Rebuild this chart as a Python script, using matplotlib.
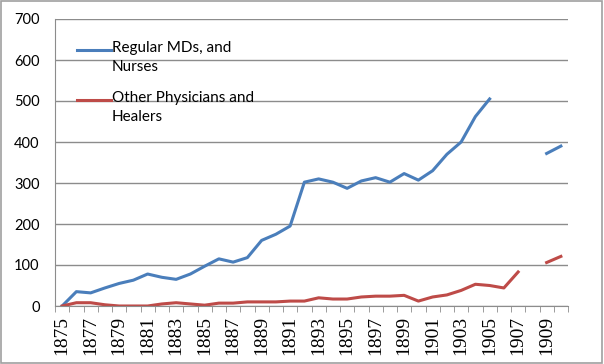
import numpy as np
import matplotlib
matplotlib.use("Agg")
import matplotlib.pyplot as plt
from matplotlib.patches import Rectangle

years = list(range(1875, 1911))
regular_mds = [0, 35, 32, 44, 55, 63, 78, 70, 65, 78,
               97, 115, 107, 118, 160, 175, 195, 302, 310, 302,
               287, 305, 313, 302, 323, 307, 330, 370, 400, 462,
               505, np.nan, np.nan, np.nan, 372, 390]
other_healers = [0, 8, 8, 3, 0, 0, 0, 5, 8, 5,
                 2, 7, 7, 10, 10, 10, 12, 12, 20, 17,
                 17, 22, 24, 24, 26, 12, 22, 27, 38, 53,
                 50, 44, 83, np.nan, 106, 121]
series_labels = ["Regular MDs, and\nNurses", "Other Physicians and\nHealers"]
y_ticks = [0, 100, 200, 300, 400, 500, 600, 700]

BLUE = "#4A7EBB"
RED = "#BE4B48"
GRID = "#8C8C8C"

fig = plt.figure(figsize=(6.04, 3.64), dpi=100)
ax = fig.add_axes([55 / 604, 1 - 306 / 364, (568 - 55) / 604, (306 - 19) / 364])

x = np.arange(len(years))
ax.plot(x, regular_mds, color=BLUE, linewidth=2.2)
ax.plot(x, other_healers, color=RED, linewidth=2.2)

ax.set_xlim(-0.5, len(years) - 0.5)
ax.set_ylim(0, 700)
ax.set_yticks(y_ticks)
ax.set_yticklabels([str(v) for v in y_ticks], family="Lato", fontsize=10.5)
ax.yaxis.grid(True, color=GRID, linewidth=1.0)
ax.set_axisbelow(True)
ax.tick_params(axis="y", length=0, pad=11)

label_idx = [i for i, yr in enumerate(years) if (yr - 1875) % 2 == 0 and yr < 1910]
ax.set_xticks(label_idx)
ax.set_xticklabels([str(years[i]) for i in label_idx], rotation=90,
                   family="Liberation Serif", fontsize=14)
ax.set_xticks(np.arange(-0.5, len(years)), minor=True)
ax.tick_params(axis="x", which="major", length=0, pad=7)
ax.tick_params(axis="x", which="minor", length=4, color=GRID, direction="out")

for side in ("top", "right"):
    ax.spines[side].set_visible(False)
for side in ("left", "bottom"):
    ax.spines[side].set_color(GRID)

# legend drawn by hand so the key line sits on the first text line, as in Excel
def px(xp, yp):
    return xp / 604, 1 - yp / 364

for label, color, y0 in zip(series_labels, [BLUE, RED], [50, 100]):
    x0, yy = px(77, y0)
    x1, _ = px(111, y0)
    fig.add_artist(plt.Line2D([x0, x1], [yy, yy], color=color, linewidth=2.2,
                              transform=fig.transFigure))
    tx, ty = px(112, y0 - 9)
    fig.text(tx, ty, label, family="Lato", fontsize=11, va="top", ha="left",
             linespacing=1.45)

fig.patches.append(Rectangle((0.002, 0.003), 0.995, 0.993, transform=fig.transFigure,
                             fill=False, edgecolor="#A0A0A0", linewidth=1.2))

fig.savefig("out.png", dpi=100)
